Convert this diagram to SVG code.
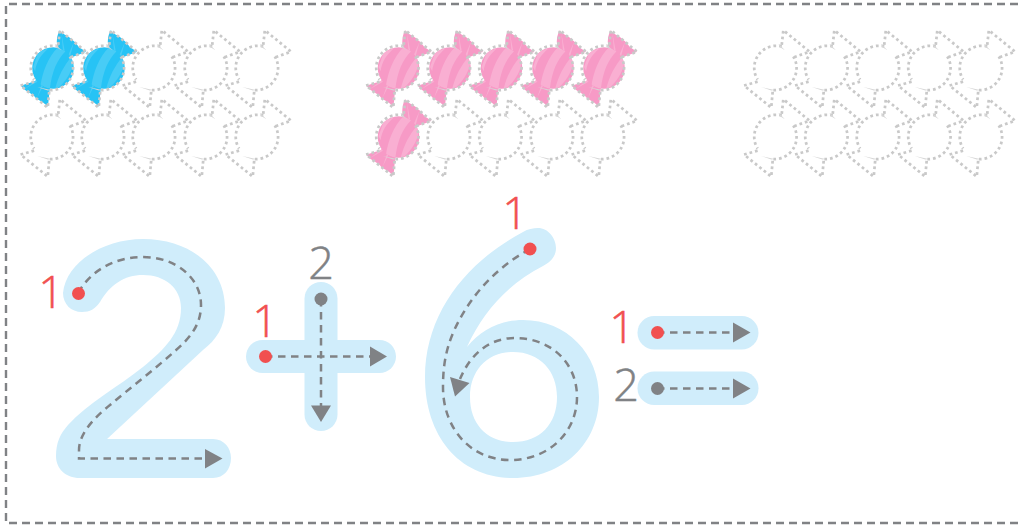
<svg xmlns="http://www.w3.org/2000/svg" width="1018" height="526" viewBox="0 0 1018 526">
<style>
.frame{fill:none;stroke:#808285;stroke-width:2.400;stroke-dasharray:8 5}
.glyph{fill:#d0edfb}
.trace{fill:none;stroke:#808285;stroke-width:2.500;stroke-dasharray:7.500 5.500}
.ah{fill:#808285}
.red{fill:#f15050;stroke:#f15050}
.gry{fill:#808285;stroke:#808285}
.num{font-family:"Open Sans","Noto Sans",sans-serif;font-weight:300;font-size:45px;text-anchor:middle;stroke-width:.5}
circle.red,circle.gry{stroke:none}
.dots{fill:none;stroke:#c9c9c9;stroke-width:2.600;stroke-dasharray:2.600 2.800}
.sliver{fill:#d6d6d6}
</style>
<defs>
<clipPath id="cb"><circle r="19.800"/></clipPath>
<path id="wr" d="M4-21C3-27 4-32 6.500-36C10-31 15-31 18-27C22-25 23-21 26-19L31.500-15.500C26-13 21-12 16-9L2 0L-18 13C-22 14-26 15-30.500 17C-28 20-26 22-23 23C-20 25-18 26-16 29C-13 31-9 32-5 37C-4 32-4 26-3 20Z"/>
<g id="outline" transform="scale(1.05)">
<path class="dots" d="M5-20.500A21 21 0 0 0-18 11M-3 21A21 21 0 0 0 16-11"/>
<path class="dots" d="M5-22L6.500-36L31.500-15.500L16-10M-18 13L-31 16.700L-5 37.700L-3.500 21"/>
<path class="sliver" d="M-15 18L-2 21L-5 21.500Z"/>
<path class="sliver" d="M2-23L8-17L3-20Z"/>
</g>
<g id="stripes"><path d="M-4-19C-11-13-16-6-17 3L-19-1L-14-15Z"/><path d="M5-20L12-16C4-8-1 3-3 20L-12 17C-10 4-5-10 5-20Z"/><path d="M18-11L19-3C17 5 12 13 6 18L2 20C5 8 10-2 18-11Z"/></g>
<path id="folds" d="M8-33L12-12L10-11ZM20-25L16-10L14-11ZM-27 20L-13 9L-11 11ZM-15 28L-10 13L-8 14Z"/>
<g id="blue">
<g transform="scale(1.05)">
<use href="#wr" fill="#27c3f5"/>
<use href="#folds" fill="#48ccf6"/>
<circle r="19.800" fill="#27c3f5"/>
<g clip-path="url(#cb)" fill="#48ccf6"><use href="#stripes"/></g>
</g>
<use href="#outline"/>
</g>
<g id="pink">
<g transform="scale(1.05)">
<use href="#wr" fill="#f79ac6"/>
<use href="#folds" fill="#f9afd2"/>
<circle r="19.800" fill="#f79ac6"/>
<g clip-path="url(#cb)" fill="#f9afd2"><use href="#stripes"/></g>
</g>
<use href="#outline"/>
</g>
</defs>
<path id="frame" class="frame" d="M1018 4H6V523H1018"/>
<g id="candies-blue">
<use href="#outline" x="155" y="68"/><use href="#outline" x="207" y="68"/><use href="#outline" x="258" y="68"/>
<use href="#outline" x="53" y="137"/><use href="#outline" x="104" y="137"/><use href="#outline" x="155" y="137"/><use href="#outline" x="207" y="137"/><use href="#outline" x="258" y="137"/>
<use href="#blue" x="53" y="68"/><use href="#blue" x="104" y="68"/>
</g>
<g id="candies-pink">
<use href="#outline" x="450" y="137"/><use href="#outline" x="501.500" y="137"/><use href="#outline" x="553" y="137"/><use href="#outline" x="604" y="137"/>
<use href="#pink" x="398.500" y="68"/><use href="#pink" x="450" y="68"/><use href="#pink" x="501.500" y="68"/><use href="#pink" x="553" y="68"/><use href="#pink" x="604" y="68"/>
<use href="#pink" x="398.500" y="137"/>
</g>
<g id="candies-empty">
<use href="#outline" x="776.500" y="68"/><use href="#outline" x="827.500" y="68"/><use href="#outline" x="879" y="68"/><use href="#outline" x="930.500" y="68"/><use href="#outline" x="982" y="68"/>
<use href="#outline" x="776.500" y="137"/><use href="#outline" x="827.500" y="137"/><use href="#outline" x="879" y="137"/><use href="#outline" x="930.500" y="137"/><use href="#outline" x="982" y="137"/>
</g>
<g id="digit-2">
<path class="glyph" d="M63 293C66 262 104 239 143 239C191 239 225 268 225 308C225 327 216 340 203 350L107 439H213C224 439 231 448 231 458C231 469 224 478 213 478H80C65 478 56 468 56 456C56 443 60 434 68 425C88 403 118 387 143 367C165 349 181 333 181 308C181 288 165 275 143 275C124 275 110 285 100 302C95 309 90 312 82 312C71 312 63 304 63 293Z"/>
<path class="trace" d="M78 293C90 272 113 257 143 257C176 257 201 278 201 305C201 325 190 338 175 351C155 369 130 388 110 405C90 421 79 436 79 450L79 458.500H206"/>
<path class="ah" d="M205 449L222.500 458.500L205 468.500Z"/>
<circle class="red" cx="78.500" cy="293.500" r="6.500"/>
<text class="num red" x="51" y="308">1</text>
</g>
<g id="plus">
<rect class="glyph" x="246" y="340" width="150" height="33" rx="16.500"/>
<rect class="glyph" x="304.500" y="282" width="33" height="149" rx="16.500"/>
<path class="trace" d="M265 356.500H371M321 299V406"/>
<path class="ah" d="M370 346.500L387 356.500L370 366.500Z"/>
<path class="ah" d="M311 405.500H331L321 422Z"/>
<circle class="red" cx="265.500" cy="356.500" r="6.500"/>
<circle class="gry" cx="321" cy="299" r="6.500"/>
<text class="num red" x="265" y="337">1</text>
<text class="num gry" x="321" y="279">2</text>
</g>
<g id="digit-6">
<path class="glyph" fill-rule="evenodd" d="M523 232C528 229 533 228 538 228C548 228 556 238 556 248C556 256 551 262 543 266C508 284 483 312 467 347C481 330 500 320 523 320C567 320 599 354 599 397C599 443 563 478 513 478C460 478 425 437 425 377C425 314 466 262 523 232ZM513 352C487 352 470 371 470 397C470 424 487 442 513 442C540 442 557 424 557 397C557 371 540 352 513 352Z"/>
<path class="trace" d="M530 249C497 267 469 296 453 333C445 352 443 369 443 387C443 429 471 460 510 460C549 460 577 432 577 397C577 363 551 338 515 338C490 338 471 353 460 379"/>
<path class="ah" d="M450 377L469.500 383L455 396.500Z"/>
<circle class="red" cx="530" cy="249" r="6.500"/>
<text class="num red" x="515" y="229">1</text>
</g>
<g id="equals">
<rect class="glyph" x="637.500" y="316" width="121" height="33.500" rx="16.700"/>
<rect class="glyph" x="637.500" y="371.500" width="121" height="33.500" rx="16.700"/>
<path class="trace" d="M657 332.500H735M657 388.500H735"/>
<path class="ah" d="M733 322.500L750.500 332.500L733 342.500Z"/>
<path class="ah" d="M733 378.500L750.500 388.500L733 398.500Z"/>
<circle class="red" cx="657.500" cy="332.500" r="6.500"/>
<circle class="gry" cx="657.500" cy="388.500" r="6.500"/>
<text class="num red" x="622" y="343">1</text>
<text class="num gry" x="626" y="401">2</text>
</g>
</svg>
